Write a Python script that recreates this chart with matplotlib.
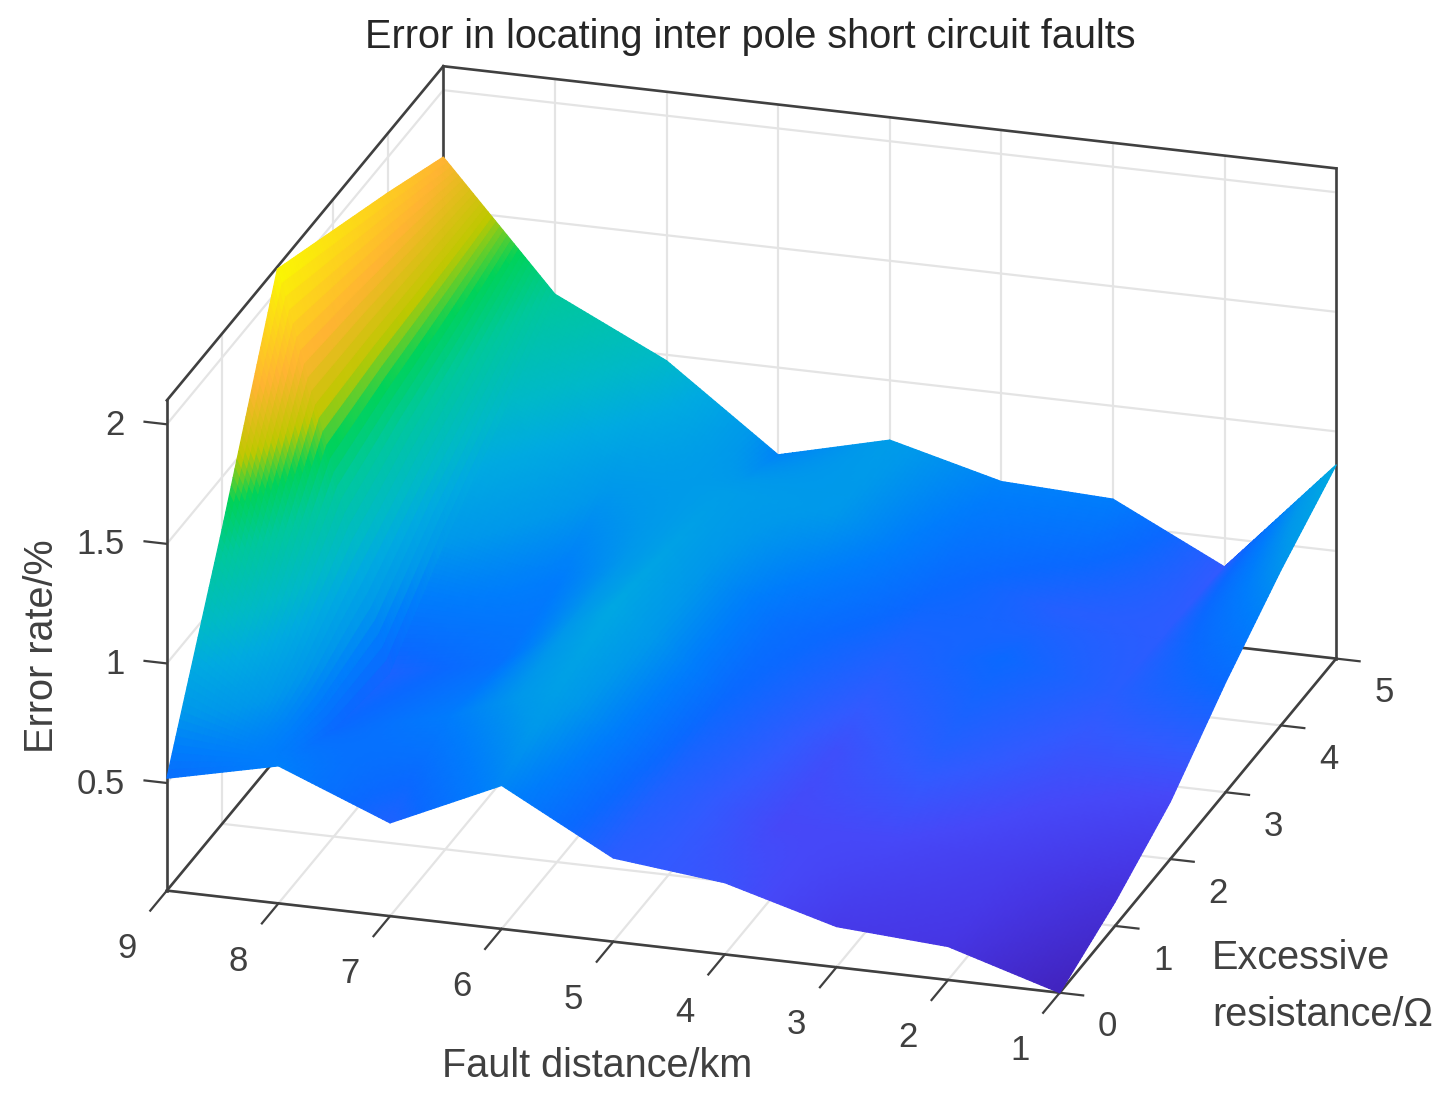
# -*-coding:Utf-8 -*

import numpy as np
import matplotlib
matplotlib.use("Agg")
import matplotlib.pyplot as plt
from matplotlib.colors import LinearSegmentedColormap, Normalize
from mpl_toolkits.mplot3d import proj3d

plt.rcParams['font.family'] = ['Liberation Sans', 'DejaVu Sans']

fault_km = [9, 8, 7, 6, 5, 4, 3, 2, 1]
resistance = [0, 1, 2, 3, 4, 5]

# error rate, one list per resistance, fault 9 -> 1 km
error_r0 = [0.52, 0.625, 0.44, 0.65, 0.40, 0.35, 0.22, 0.19, 0.05]
error_r1 = [1.28, 0.50, 0.60, 0.78, 0.44, 0.30, 0.30, 0.24, 0.15]
error_r2 = [2.09, 0.45, 0.55, 0.84, 0.50, 0.33, 0.43, 0.33, 0.29]
error_r3 = [1.97, 0.72, 0.60, 0.80, 0.54, 0.43, 0.50, 0.41, 0.51]
error_r4 = [1.85, 0.95, 0.72, 0.76, 0.72, 0.52, 0.42, 0.40, 0.70]
error_r5 = [1.72, 1.20, 0.975, 0.635, 0.75, 0.63, 0.61, 0.38, 0.86]

z_ticks = [0.5, 1, 1.5, 2]
z_tick_labels = ['0.5', '1', '1.5', '2']
z_lo, z_hi = 0.05, 2.1

# colour stops: (error rate, rgb)
colour_z = [0.05, 0.2, 0.3, 0.38, 0.5, 0.61, 0.72, 0.86, 0.98, 1.2, 1.36, 1.5, 1.72, 2.09]
colour_rgb = [(65, 35, 190), (70, 55, 230), (70, 72, 248), (50, 90, 255),
              (10, 105, 255), (0, 125, 252), (0, 152, 235), (0, 170, 225),
              (0, 185, 200), (0, 200, 155), (0, 210, 90), (190, 200, 0),
              (255, 180, 50), (250, 250, 0)]

W, H = 1452, 1102
GREY = '#404040'
GRID = '#e4e4e4'


def build_cmap():
    lo, hi = colour_z[0], colour_z[-1]
    stops = [((z - lo) / (hi - lo), tuple(c / 255 for c in rgb))
             for z, rgb in zip(colour_z, colour_rgb)]
    return LinearSegmentedColormap.from_list('picture', stops, N=1024)


def refine(x, y, z, n=30):
    """Subdivide each cell bilinearly, mplot3d has no interpolated shading"""
    xi = np.arange(len(x) - 1 + 1 / n / 2, step=1 / n)
    yi = np.arange(len(y) - 1 + 1 / n / 2, step=1 / n)
    i = np.minimum(xi.astype(int), len(x) - 2)
    j = np.minimum(yi.astype(int), len(y) - 2)
    u = (xi - i)[None, :]
    v = (yi - j)[:, None]
    zz = (z[j][:, i] * (1 - u) * (1 - v) + z[j][:, i + 1] * u * (1 - v)
          + z[j + 1][:, i] * (1 - u) * v + z[j + 1][:, i + 1] * u * v)
    xx, yy = np.meshgrid(np.interp(xi, np.arange(len(x)), x),
                         np.interp(yi, np.arange(len(y)), y))
    return xx, yy, zz


def label3d(ax, x, y, z, s, **kw):
    """Text at a 3D data point, kept as a plain 2D text"""
    px, py, _ = proj3d.proj_transform(x, y, z, ax.get_proj())
    ax.text2D(px, py, s, transform=ax.transData, color=GREY, fontsize=25, **kw)


fig = plt.figure(figsize=(W / 100, H / 100), dpi=100)
side = 1385
ax = fig.add_axes([40.3 / W, -138.7 / H, side / W, side / H], projection='3d')
ax.set_proj_type('ortho')
ax.view_init(elev=21.83, azim=-72.9)
ax.set_box_aspect((934, 940, 528), zoom=1.0)
ax.set_xlim(9, 1)
ax.set_ylim(0, 5)
ax.set_zlim(z_lo, z_hi)
ax.set_axis_off()
ax.computed_zorder = False

# walls and floor
for x in fault_km:
    ax.plot([x, x], [5, 5], [z_lo, z_hi], color=GRID, lw=1.6, zorder=1)
    ax.plot([x, x], [0, 5], [z_lo, z_lo], color=GRID, lw=1.6, zorder=1)
for y in resistance:
    ax.plot([9, 9], [y, y], [z_lo, z_hi], color=GRID, lw=1.6, zorder=1)
    ax.plot([9, 1], [y, y], [z_lo, z_lo], color=GRID, lw=1.6, zorder=1)
for z in z_ticks:
    ax.plot([9, 9], [0, 5], [z, z], color=GRID, lw=1.6, zorder=1)
    ax.plot([9, 1], [5, 5], [z, z], color=GRID, lw=1.6, zorder=1)

# box
box = [([9, 9], [0, 0], [z_lo, z_hi]), ([9, 9], [5, 5], [z_lo, z_hi]),
       ([1, 1], [5, 5], [z_lo, z_hi]), ([9, 9], [0, 5], [z_hi, z_hi]),
       ([9, 1], [5, 5], [z_hi, z_hi]), ([9, 1], [0, 0], [z_lo, z_lo]),
       ([1, 1], [0, 5], [z_lo, z_lo]), ([9, 9], [0, 5], [z_lo, z_lo]),
       ([9, 1], [5, 5], [z_lo, z_lo])]
for bx, by, bz in box:
    ax.plot(bx, by, bz, color=GREY, lw=1.9, zorder=2)

# ticks and tick labels
for x in fault_km:
    ax.plot([x, x], [0, -0.3], [z_lo, z_lo], color=GREY, lw=1.6, zorder=2)
    label3d(ax, x, -0.72, z_lo - 0.04, str(x), ha='center', va='center')
for y in resistance:
    ax.plot([1, 0.79], [y, y], [z_lo, z_lo], color=GREY, lw=1.6, zorder=2)
    label3d(ax, 0.57, y, z_lo - 0.12, str(y), ha='center', va='center')
for z, label in zip(z_ticks, z_tick_labels):
    ax.plot([9, 9.2], [0, 0], [z, z], color=GREY, lw=1.6, zorder=2)
    label3d(ax, 9.38, 0, z - 0.025, label, ha='right', va='center')

# surface
x_arr = np.array(fault_km, dtype=float)
y_arr = np.array(resistance, dtype=float)
z_arr = np.array([error_r0, error_r1, error_r2, error_r3, error_r4, error_r5])
xx, yy, zz = refine(x_arr, y_arr, z_arr)
cmap = build_cmap()
norm = Normalize(colour_z[0], colour_z[-1])
cz = 0.25 * (zz[:-1, :-1] + zz[1:, :-1] + zz[:-1, 1:] + zz[1:, 1:])
ax.plot_surface(xx, yy, zz, facecolors=cmap(norm(cz)), shade=False,
                rstride=1, cstride=1, linewidth=0.9, antialiased=True,
                zorder=3)

fig.text(750 / W, 1 - 37 / H, 'Error in locating inter pole short circuit faults',
         color='#262626', fontsize=28.5, ha='center', va='center')
fig.text(597 / W, 1 - 1066 / H, 'Fault distance/km', color=GREY, fontsize=28.5,
         ha='center', va='center')
fig.text(42 / W, 1 - 646 / H, 'Error rate/%', color=GREY, fontsize=28.5,
         rotation=90, ha='center', va='center')
fig.text(1212 / W, 1 - 958 / H, 'Excessive', color=GREY, fontsize=28.5,
         ha='left', va='center')
fig.text(1212 / W, 1 - 1015 / H, 'resistance/\u03a9', color=GREY, fontsize=28.5,
         ha='left', va='center')

fig.savefig('out.png', dpi=100)
